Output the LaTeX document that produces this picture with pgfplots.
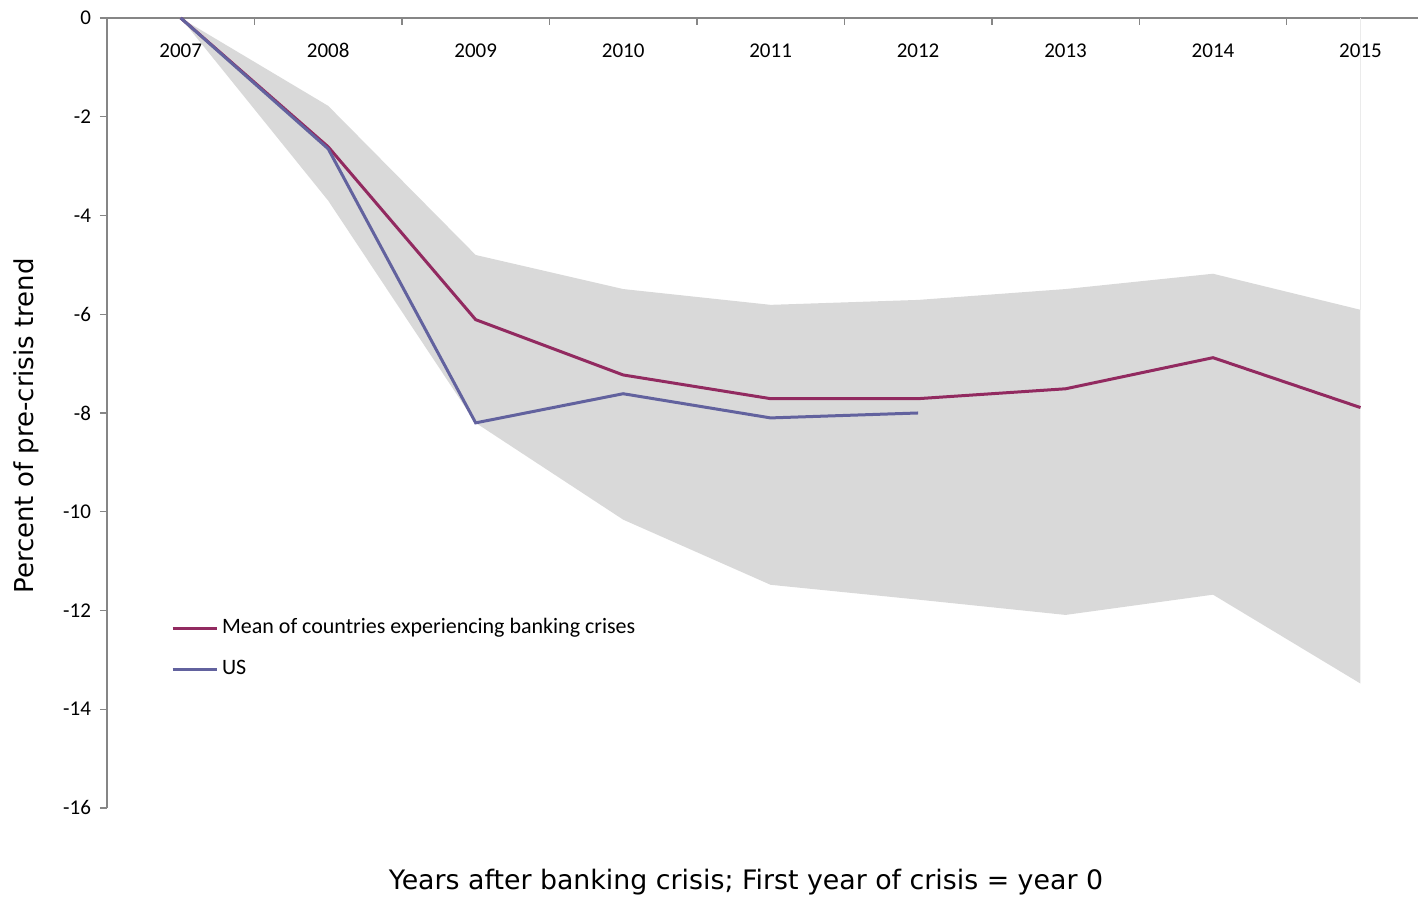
\documentclass[border=0pt]{standalone}
\usepackage{fontspec}
\setmainfont{Carlito}
\newfontfamily\verd{DejaVu Sans}
\usepackage{pgfplots}
\pgfplotsset{compat=1.18}
\usetikzlibrary{calc}
\definecolor{meanc}{RGB}{146,42,96}
\definecolor{usc}{RGB}{98,98,158}
\definecolor{bandc}{RGB}{217,217,217}
\definecolor{axc}{RGB}{134,134,134}
\tikzset{yearlab/.style={font=\fontsize{10.5}{12}\selectfont, anchor=base, yshift=-20pt}}
\begin{document}
\begin{tikzpicture}
\begin{axis}[name=ax, scale only axis, width=655.5pt, height=395pt,
  xmin=-0.5, xmax=8.39, ymin=-16, ymax=0,
  axis x line=top, axis y line=left,
  axis line style={axc, line width=0.7pt, -},
  ytick={-16,-14,...,0},
  xtick={0.5,1.5,...,7.5}, xticklabels={},
  tick style={axc, line width=0.7pt},
  major tick length=3.5pt,
  tick align=outside,
  x tick style={yshift=-3.5pt},
  /pgf/number format/assume math mode=true,
  yticklabel style={font=\fontsize{10.5}{12}\selectfont, xshift=-1pt},
  clip=false,
  legend style={draw=none, fill=none, at={(axis cs:-0.068,-12.78)}, anchor=west,
    inner sep=0pt, row sep=10.5pt, font=\fontsize{11}{13}\selectfont,
    nodes={inner sep=0pt, text depth=0.25em, text height=0.75em},
    /tikz/every odd column/.append style={column sep=2pt}},
  legend cell align=left,
  legend image code/.code={\draw[#1] (0pt,0pt) -- (22pt,0pt);},
]
\addplot[fill=bandc, draw=none, forget plot] coordinates {
  (0,0) (1,-1.78) (2,-4.80) (3,-5.49) (4,-5.81) (5,-5.71) (6,-5.49) (7,-5.18) (8,-5.91)
  (8,-13.48) (7,-11.68) (6,-12.09) (5,-11.78) (4,-11.48) (3,-10.16) (2,-8.20) (1,-3.70)
} -- cycle;
\addplot[draw=black!8, line width=0.4pt, forget plot] coordinates {(8,0) (8,-5.91)};
\addplot[meanc, line width=1.5pt] coordinates {
  (0,0) (1,-2.61) (2,-6.11) (3,-7.23) (4,-7.71) (5,-7.71) (6,-7.51) (7,-6.88) (8,-7.89)
};
\addlegendentry{Mean of countries experiencing banking crises}
\addplot[usc, line width=1.5pt] coordinates {
  (0,0) (1,-2.65) (2,-8.20) (3,-7.61) (4,-8.10) (5,-8.00)
};
\addlegendentry{US}
\node[yearlab] at (axis cs:0,0) {2007};
\node[yearlab] at (axis cs:1,0) {2008};
\node[yearlab] at (axis cs:2,0) {2009};
\node[yearlab] at (axis cs:3,0) {2010};
\node[yearlab] at (axis cs:4,0) {2011};
\node[yearlab] at (axis cs:5,0) {2012};
\node[yearlab] at (axis cs:6,0) {2013};
\node[yearlab] at (axis cs:7,0) {2014};
\node[yearlab] at (axis cs:8,0) {2015};
\end{axis}
\node[font=\verd\fontsize{13.4}{15}\selectfont] at ($(ax.south west)+(319.5pt,-37pt)$) {Years after banking crisis; First year of crisis = year 0};
\node[font=\verd\fontsize{13}{15}\selectfont, rotate=90] at ($(ax.north west)+(-40.5pt,-204pt)$) {Percent of pre-crisis trend};
\pgfresetboundingbox
\path[use as bounding box] ($(ax.south west)+(-53.5pt,-44.5pt)$) rectangle ($(ax.north east)+(0pt,9pt)$);
\end{tikzpicture}
\end{document}
